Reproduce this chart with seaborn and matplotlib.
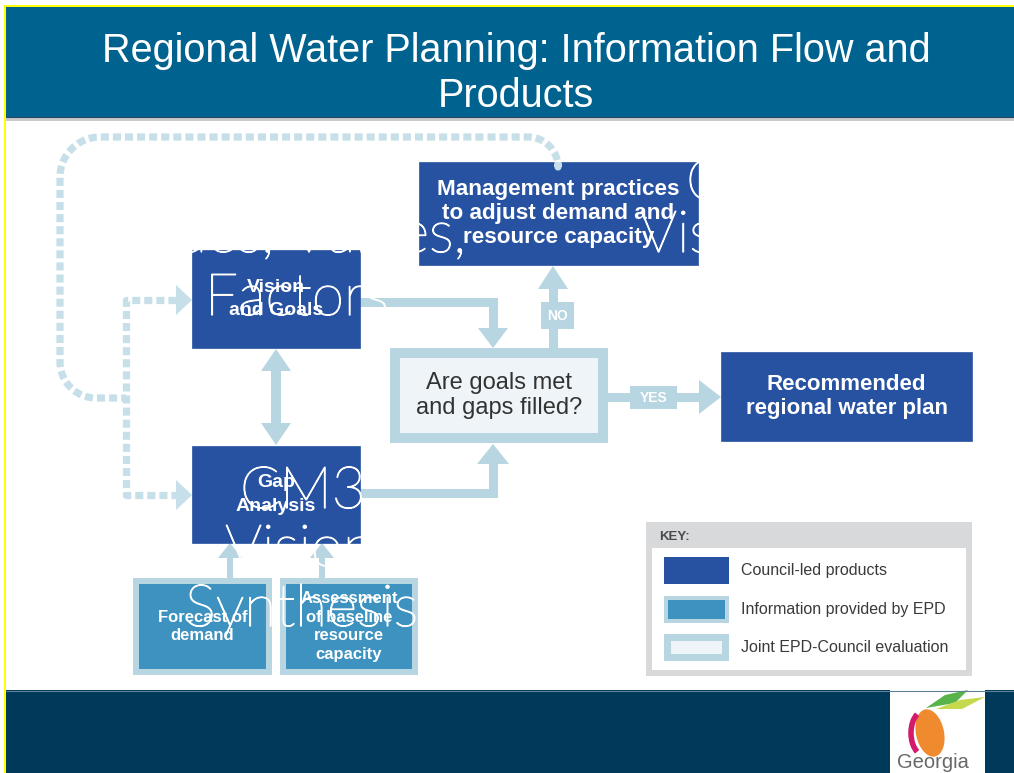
import numpy as np
import matplotlib
matplotlib.use("Agg")
import matplotlib.pyplot as plt
import matplotlib.patheffects as pe
import seaborn as sns
from matplotlib.patches import Rectangle, Polygon, Ellipse, Arc

sns.set_theme(style="white")
plt.rcParams["font.family"] = ["Liberation Sans", "DejaVu Sans"]
plt.rcParams["lines.scale_dashes"] = False

# ---- content ----
title_lines = ["Regional Water Planning: Information Flow and", "Products"]

box_names = ["mgmt", "vision", "gap", "decision", "plan", "forecast", "assess"]
box_labels = [
    ["Management practices", "to adjust demand and", "resource capacity"],
    ["Vision", "and Goals"],
    ["Gap", "Analysis"],
    ["Are goals met", "and gaps filled?"],
    ["Recommended", "regional water plan"],
    ["Forecast of", "demand"],
    ["Assessment", "of baseline", "resource", "capacity"],
]
box_kinds = ["council", "council", "council", "joint", "council", "epd", "epd"]

key_title = "KEY:"
key_labels = ["Council-led products", "Information provided by EPD",
              "Joint EPD-Council evaluation"]
key_kinds = ["council", "epd", "joint"]

branch_labels = ["NO", "YES"]

# stray white text left over on the slide
overlay_words = ["Issues, Values,", "Vision", "C", "Factors", "CM3", "Vision", "Synthesis"]

# ---- colours ----
C_HEAD = "#00628f"
C_FOOT = "#003a5a"
C_DARK = "#2752a2"
C_MID = "#3e92c0"
C_LINE = "#b8d5e2"
C_DASH = "#c6dfe8"
C_PALE = "#eef4f7"
C_KEY = "#d8d9db"

# ---- layout (pixel coords, y down) ----
rects = {
    "mgmt": (419, 162, 698, 265),
    "vision": (192, 250, 360, 348),
    "gap": (192, 446, 360, 543),
    "decision": (390, 348, 608, 443),
    "plan": (721, 352, 972, 441),
    "forecast": (133, 578, 272, 675),
    "assess": (280, 578, 418, 675),
}
text_style = {
    "mgmt": dict(size=16.2, weight="bold", color="white", step=24),
    "vision": dict(size=14, weight="bold", color="white", step=23),
    "gap": dict(size=14, weight="bold", color="white", step=24),
    "decision": dict(size=17, weight="normal", color="#333333", step=25),
    "plan": dict(size=16, weight="bold", color="white", step=24),
    "forecast": dict(size=12, weight="bold", color="white", step=18),
    "assess": dict(size=12, weight="bold", color="white", step=18.5),
}
border = {"epd": 6, "joint": 10}

fig = plt.figure(figsize=(10.14, 7.73), dpi=100)
ax = fig.add_axes([0, 0, 1, 1])
ax.set_xlim(0, 1014)
ax.set_ylim(773, 0)
ax.axis("off")


def seg(x0, y0, x1, y1, w, color=C_LINE):
    h = w / 2
    xa, xb = sorted((x0, x1))
    ya, yb = sorted((y0, y1))
    ax.add_patch(Rectangle((xa - h, ya - h), xb - xa + w, yb - ya + w,
                           fc=color, ec="none", lw=0))


def head(tx, ty, d, length, width, color=C_LINE):
    dx, dy = {"up": (0, -1), "down": (0, 1), "left": (-1, 0), "right": (1, 0)}[d]
    bx, by = tx - dx * length, ty - dy * length
    px, py = -dy, dx
    pts = [(tx, ty), (bx + px * width / 2, by + py * width / 2),
           (bx - px * width / 2, by - py * width / 2)]
    ax.add_patch(Polygon(pts, closed=True, fc=color, ec="none", lw=0))


def rounded(pts, radii):
    xs, ys = [pts[0][0]], [pts[0][1]]
    for i in range(1, len(pts) - 1):
        p, c, n = (np.array(pts[i - 1], float), np.array(pts[i], float),
                   np.array(pts[i + 1], float))
        r = radii[i - 1]
        u = (c - p) / np.linalg.norm(c - p)
        v = (n - c) / np.linalg.norm(n - c)
        o = c - u * r + v * r
        t = np.linspace(0, np.pi / 2, 20)
        arc = o[None, :] - np.outer(np.cos(t), v * r) + np.outer(np.sin(t), u * r)
        xs += list(arc[:, 0])
        ys += list(arc[:, 1])
    xs.append(pts[-1][0])
    ys.append(pts[-1][1])
    return xs, ys


def dashed(xs, ys):
    ax.plot(xs, ys, color=C_DASH, lw=5.2, dashes=(5.8, 2.9),
            dash_capstyle="butt", solid_joinstyle="miter")


# ---- slide frame ----
ax.add_patch(Rectangle((6, 7), 1008, 110, fc=C_HEAD, ec="none"))
ax.add_patch(Rectangle((6, 117), 1008, 4, fc="#c9c9c9", ec="none"))
ax.plot([6, 1014], [117, 117], color="#274a62", lw=0.8)
ax.add_patch(Rectangle((6, 690), 1008, 83, fc=C_FOOT, ec="none"))
ax.plot([6, 1014], [690.5, 690.5], color="#5d8199", lw=0.8)
ax.add_patch(Rectangle((4, 5), 2, 768, fc="#ffff00", ec="none"))
ax.add_patch(Rectangle((4, 5), 1010, 2, fc="#ffff00", ec="none"))

for line, yb in zip(title_lines, [62, 107]):
    ax.text(516, yb, line, ha="center", va="baseline", color="white", fontsize=28.5)

# ---- dashed feedback loops ----
xs, ys = rounded([(558, 162), (558, 137), (60, 137), (60, 398), (126, 398)], [30, 40, 36])
dashed(xs, ys)
dashed([176, 126, 126, 176], [300, 300, 495, 495])
head(192, 300, "right", 16, 30, C_DASH)
head(192, 495, "right", 16, 30, C_DASH)

# ---- solid arrows ----
seg(360, 302, 493, 302, 9)
seg(493, 302, 493, 330, 9)
head(493, 348, "down", 20, 30)

seg(360, 493, 493, 493, 9)
seg(493, 493, 493, 462, 9)
head(493, 444, "up", 20, 32)

seg(553, 348, 553, 288, 9)
head(553, 266, "up", 23, 30)
seg(608, 397, 700, 397, 9)
head(721, 397, "right", 22, 34)

seg(276, 370, 276, 425, 10)
head(276, 349, "up", 22, 30)
head(276, 445, "down", 22, 30)

seg(230, 578, 230, 556, 6)
head(230, 543, "up", 15, 24)
seg(322, 578, 322, 556, 6)
head(322, 543, "up", 15, 24)

# branch labels
for lab, (x0, y0, x1, y1) in zip(branch_labels, [(541, 302, 574, 329), (630, 386, 677, 409)]):
    ax.add_patch(Rectangle((x0, y0), x1 - x0, y1 - y0, fc=C_LINE, ec="none"))
    ax.text((x0 + x1) / 2, (y0 + y1) / 2 + 1, lab, ha="center", va="center",
            color="white", fontsize=10, fontweight="bold")


# ---- boxes ----
def draw_box(rect, kind):
    x0, y0, x1, y1 = rect
    if kind == "council":
        ax.add_patch(Rectangle((x0, y0), x1 - x0, y1 - y0, fc=C_DARK, ec="#3a63aa", lw=0.6))
        return
    b = border[kind]
    fill = C_MID if kind == "epd" else C_PALE
    ax.add_patch(Rectangle((x0, y0), x1 - x0, y1 - y0, fc=C_LINE, ec="none"))
    ax.add_patch(Rectangle((x0 + b, y0 + b), x1 - x0 - 2 * b, y1 - y0 - 2 * b, fc=fill, ec="none"))


for name, lines, kind in zip(box_names, box_labels, box_kinds):
    r = rects[name]
    draw_box(r, kind)
    st = text_style[name]
    cx, cy = (r[0] + r[2]) / 2, (r[1] + r[3]) / 2
    n = len(lines)
    for i, line in enumerate(lines):
        ax.text(cx, cy + (i - (n - 1) / 2) * st["step"], line, ha="center", va="center",
                color=st["color"], fontsize=st["size"], fontweight=st["weight"])

# ---- key ----
ax.add_patch(Rectangle((646, 522), 326, 154, fc=C_KEY, ec="none"))
ax.add_patch(Rectangle((652, 548), 314, 122, fc="white", ec="none"))
ax.text(659, 537, key_title, ha="left", va="center", color="#4a4a4a",
        fontsize=9.5, fontweight="bold")
sw_border = {"council": 0, "epd": 4, "joint": 7}
for i, (lab, kind) in enumerate(zip(key_labels, key_kinds)):
    y0 = 557 + i * 38.5
    if kind == "council":
        ax.add_patch(Rectangle((664, y0), 65, 27, fc=C_DARK, ec="none"))
    else:
        b = sw_border[kind]
        fill = C_MID if kind == "epd" else C_PALE
        ax.add_patch(Rectangle((664, y0), 65, 27, fc=C_LINE, ec="none"))
        ax.add_patch(Rectangle((664 + b, y0 + b), 65 - 2 * b, 27 - 2 * b, fc=fill, ec="none"))
    ax.text(741, y0 + 14, lab, ha="left", va="center", color="#3a3a3a", fontsize=11.5)

# ---- stray overlay text (white, so it only shows on the coloured boxes) ----
ov_pos = [(466, 252, "right"), (640, 252, "left"), (686, 200, "left"),
          (205, 315, "left"), (240, 508, "left"), (225, 566, "left"), (185, 626, "left")]
for word, (x, y, ha) in zip(overlay_words, ov_pos):
    ax.text(x, y, word, ha=ha, va="baseline", color="white", fontsize=42,
            family=["Lato", "DejaVu Sans"], fontweight="light",
            path_effects=[pe.withStroke(linewidth=0.9, foreground="white")])

# ---- Georgia logo ----
ax.add_patch(Rectangle((890, 690), 95, 83, fc="white", ec="none"))
ax.add_patch(Polygon([(926, 708), (945, 695), (968, 690), (955, 703)], closed=True,
                     fc="#58b44a", ec="none"))
ax.add_patch(Polygon([(936, 709), (960, 700), (985, 697), (962, 709)], closed=True,
                     fc="#c6d84c", ec="none"))
ax.add_patch(Ellipse((930, 733), 28, 48, angle=-12, fc="#f08a2e", ec="none"))
ax.add_patch(Arc((924, 733), 26, 44, angle=0, theta1=110, theta2=250,
                 color="#d41a6a", lw=4))
ax.text(933, 763, "Georgia", ha="center", va="center", color="#686868", fontsize=14.5)

fig.savefig("out.png", dpi=100)
